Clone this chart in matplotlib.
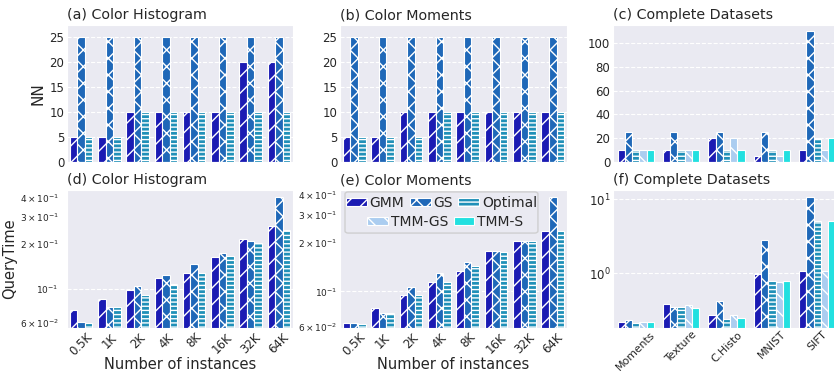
import numpy as np
import matplotlib
matplotlib.use("Agg")
import matplotlib.pyplot as plt
from matplotlib.patches import FancyBboxPatch
import seaborn as sns

sizes = ["0.5K", "1K", "2K", "4K", "8K", "16K", "32K", "64K"]
datasets = ["Moments", "Texture", "C.Histo", "MNIST", "SIFT"]
methods = ["GMM", "GS", "Optimal", "TMM-GS", "TMM-S"]

# NN per method
nn_hist = {"GMM": [5, 5, 10, 10, 10, 10, 20, 20],
           "GS": [25, 25, 25, 25, 25, 25, 25, 25],
           "Optimal": [5, 5, 10, 10, 10, 10, 10, 10]}
nn_mom = {"GMM": [5, 5, 10, 10, 10, 10, 10, 10],
          "GS": [25, 25, 25, 25, 25, 25, 25, 25],
          "Optimal": [5, 5, 5, 10, 10, 10, 10, 10]}
nn_all = {"GMM": [10, 10, 20, 5, 10],
          "GS": [25, 25, 25, 25, 110],
          "Optimal": [10, 10, 10, 10, 20],
          "TMM-GS": [10, 10, 20, 5, 10],
          "TMM-S": [10, 10, 10, 10, 20]}

# query time per method
qt_hist = {"GMM": [0.0726, 0.0855, 0.0985, 0.119, 0.128, 0.164, 0.215, 0.263],
           "GS": [0.0607, 0.0756, 0.105, 0.124, 0.146, 0.173, 0.208, 0.410],
           "Optimal": [0.0598, 0.0756, 0.0908, 0.107, 0.128, 0.166, 0.201, 0.246]}
qt_mom = {"GMM": [0.0633, 0.0787, 0.0953, 0.114, 0.134, 0.178, 0.205, 0.238],
          "GS": [0.0633, 0.0727, 0.107, 0.130, 0.152, 0.178, 0.205, 0.390],
          "Optimal": [0.0624, 0.0727, 0.0953, 0.114, 0.145, 0.177, 0.205, 0.238]}
qt_all = {"GMM": [0.218, 0.385, 0.268, 0.97, 1.08],
          "GS": [0.234, 0.343, 0.422, 2.82, 10.8],
          "Optimal": [0.211, 0.343, 0.241, 0.78, 5.09],
          "TMM-GS": [0.220, 0.369, 0.268, 0.755, 1.08],
          "TMM-S": [0.220, 0.340, 0.243, 0.78, 5.09]}

colors = {"GMM": "#1b1bb3", "GS": "#1f68b8", "Optimal": "#2090b8",
          "TMM-GS": "#abcdf0", "TMM-S": "#22e0e0"}
hatches = {"GMM": "//", "GS": "xx", "Optimal": "----", "TMM-GS": "\\\\", "TMM-S": ""}

sns.set_style("darkgrid")
plt.rcParams["font.family"] = ["DejaVu Sans"]
plt.rcParams["hatch.linewidth"] = 1.0


def draw(ax, labels, data, log=False):
    n = len(data)
    w = 0.8 / n
    x = np.arange(len(labels))
    bars = []
    for i, (m, vals) in enumerate(data.items()):
        b = ax.bar(x - 0.4 + w * (i + 0.5), vals, w, color=colors[m],
                   hatch=hatches[m], edgecolor="white", linewidth=0.8, label=m)
        bars.append(b)
    ax.set_xlim(-0.5, len(labels) - 0.5)
    ax.set_xticks(x)
    ax.grid(axis="x", visible=False)
    ax.grid(axis="y", color="white", linestyle="--", linewidth=0.8)
    if log:
        ax.set_yscale("log")
        ax.grid(axis="y", which="minor", visible=False)
    ax.tick_params(which="both", labelsize=8.5, length=0, pad=2)
    return bars


fig = plt.figure(figsize=(8.34, 3.71), dpi=100)
W, H = 834.0, 371.0


def box(l, t, r, b):
    return [l / W, 1 - b / H, (r - l) / W, (b - t) / H]


ax_a = fig.add_axes(box(67, 25, 293, 162))
ax_b = fig.add_axes(box(340, 25, 567, 162))
ax_c = fig.add_axes(box(613, 25, 840, 162))
ax_d = fig.add_axes(box(67, 190, 293, 328))
ax_e = fig.add_axes(box(340, 190, 567, 328))
ax_f = fig.add_axes(box(613, 190, 840, 328))

draw(ax_a, sizes, nn_hist)
draw(ax_b, sizes, nn_mom)
draw(ax_c, datasets, nn_all)
for ax in (ax_a, ax_b):
    ax.set_ylim(0, 27.4)
    ax.set_yticks([0, 5, 10, 15, 20, 25])
ax_c.set_ylim(0, 115)
ax_c.set_yticks([0, 20, 40, 60, 80, 100])
for ax in (ax_a, ax_b, ax_c):
    ax.set_xticklabels([])
ax_a.set_ylabel("NN", fontsize=11)
ax_a.yaxis.set_label_coords(-0.097, 0.5)

draw(ax_d, sizes, qt_hist, log=True)
draw(ax_e, sizes, qt_mom, log=True)
bars_f = draw(ax_f, datasets, qt_all, log=True)
ax_d.set_ylim(0.055, 0.454)
ax_e.set_ylim(0.059, 0.43)
ax_f.set_ylim(0.18, 13.4)
ax_d.tick_params(axis="y", which="both", labelsize=6.5, pad=6)
ax_e.tick_params(axis="y", which="both", labelsize=6.5, pad=2)
for ax, labs in ((ax_d, sizes), (ax_e, sizes), (ax_f, datasets)):
    ax.set_xticklabels(labs, rotation=45, ha="center")
    ax.tick_params(axis="x", pad=2)
ax_f.tick_params(axis="x", labelsize=7.8, pad=1)
ax_d.set_ylabel("QueryTime", fontsize=10.5)
ax_d.yaxis.set_label_coords(-0.22, 0.5)
ax_d.set_xlabel("Number of instances", fontsize=10.5, labelpad=-1)
ax_e.set_xlabel("Number of instances", fontsize=10.5, labelpad=-1)

titles = ["(a) Color Histogram", "(b) Color Moments", "(c) Complete Datasets",
          "(d) Color Histogram", "(e) Color Moments", "(f) Complete Datasets"]
for ax, t in zip((ax_a, ax_b, ax_c, ax_d, ax_e, ax_f), titles):
    ax.set_title(t, loc="left", fontsize=10.3, pad=4)

# legend: first row of three, second row of two centred, in one frame
leg_kw = dict(fontsize=10, frameon=False, handlelength=1.5, handleheight=0.55,
              columnspacing=0.4, handletextpad=0.2, borderpad=0.0,
              borderaxespad=0.0, loc="center")
frame = FancyBboxPatch((0.022, 0.688), 0.85, 0.298, transform=ax_e.transAxes,
                       boxstyle="round,pad=0,rounding_size=0.015",
                       facecolor="#EAEAF2", edgecolor="#cccccc", linewidth=1.0,
                       alpha=0.9, zorder=4)
ax_e.add_patch(frame)
leg1 = ax_e.legend(bars_f[:3], methods[:3], ncol=3,
                   bbox_to_anchor=(0.447, 0.906), **leg_kw)
leg1.set_zorder(5)
ax_e.add_artist(leg1)
leg2 = ax_e.legend(bars_f[3:], methods[3:], ncol=2,
                   bbox_to_anchor=(0.463, 0.768), **leg_kw)
leg2.set_zorder(5)

fig.savefig("out.png", dpi=100)
